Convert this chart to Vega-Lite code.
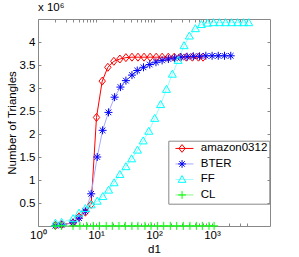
{
  "$schema": "https://vega.github.io/schema/vega-lite/v6.json",
  "width": 232,
  "height": 207,
  "autosize": "none",
  "padding": {"left": 38, "top": 19, "right": 29, "bottom": 31},
  "background": "white",
  "config": {
    "font": "Liberation Sans",
    "view": {"stroke": null},
    "axis": {"grid": false, "domainColor": "#888888", "tickColor": "#888888", "labelColor": "#000000", "titleColor": "#000000", "labelFontSize": 11.5, "titleFontSize": 11.5, "titleFontWeight": "normal", "labelFont": "Liberation Sans", "titleFont": "Liberation Sans"},
    "legend": {"labelFont": "Liberation Sans", "labelFontSize": 11.5, "labelColor": "#000000"}
  },
  "title": {"text": "x 10⁶", "anchor": "start", "frame": "group", "fontSize": 11.5, "fontWeight": "normal", "font": "Liberation Sans", "offset": 3, "color": "#000000"},
  "data": {"values": [
    {"series": "amazon0312", "d1": 2, "tri": 10000},
    {"series": "amazon0312", "d1": 2.55, "tri": 30000},
    {"series": "amazon0312", "d1": 4.03, "tri": 70000},
    {"series": "amazon0312", "d1": 5.1, "tri": 200000},
    {"series": "amazon0312", "d1": 6.56, "tri": 300000},
    {"series": "amazon0312", "d1": 8.26, "tri": 470000},
    {"series": "amazon0312", "d1": 10.2, "tri": 2360000},
    {"series": "amazon0312", "d1": 12.8, "tri": 3150000},
    {"series": "amazon0312", "d1": 16, "tri": 3450000},
    {"series": "amazon0312", "d1": 20.3, "tri": 3580000},
    {"series": "amazon0312", "d1": 25.8, "tri": 3630000},
    {"series": "amazon0312", "d1": 32.8, "tri": 3660000},
    {"series": "amazon0312", "d1": 41.7, "tri": 3670000},
    {"series": "amazon0312", "d1": 52.9, "tri": 3670000},
    {"series": "amazon0312", "d1": 67.3, "tri": 3670000},
    {"series": "amazon0312", "d1": 85.7, "tri": 3670000},
    {"series": "amazon0312", "d1": 109, "tri": 3670000},
    {"series": "amazon0312", "d1": 138, "tri": 3670000},
    {"series": "amazon0312", "d1": 176, "tri": 3670000},
    {"series": "amazon0312", "d1": 223, "tri": 3670000},
    {"series": "amazon0312", "d1": 284, "tri": 3670000},
    {"series": "amazon0312", "d1": 361, "tri": 3670000},
    {"series": "amazon0312", "d1": 458, "tri": 3670000},
    {"series": "amazon0312", "d1": 583, "tri": 3670000},
    {"series": "amazon0312", "d1": 700, "tri": 3670000},
    {"series": "BTER", "d1": 2, "tri": 5000},
    {"series": "BTER", "d1": 2.55, "tri": 20000},
    {"series": "BTER", "d1": 4.03, "tri": 70000},
    {"series": "BTER", "d1": 5.1, "tri": 170000},
    {"series": "BTER", "d1": 6.56, "tri": 320000},
    {"series": "BTER", "d1": 8.26, "tri": 700000},
    {"series": "BTER", "d1": 10.5, "tri": 1500000},
    {"series": "BTER", "d1": 13, "tri": 2080000},
    {"series": "BTER", "d1": 16.4, "tri": 2470000},
    {"series": "BTER", "d1": 20.9, "tri": 2800000},
    {"series": "BTER", "d1": 26.4, "tri": 3020000},
    {"series": "BTER", "d1": 32.8, "tri": 3160000},
    {"series": "BTER", "d1": 41.7, "tri": 3280000},
    {"series": "BTER", "d1": 51.4, "tri": 3380000},
    {"series": "BTER", "d1": 65.9, "tri": 3450000},
    {"series": "BTER", "d1": 84.5, "tri": 3510000},
    {"series": "BTER", "d1": 108, "tri": 3560000},
    {"series": "BTER", "d1": 138, "tri": 3600000},
    {"series": "BTER", "d1": 177, "tri": 3630000},
    {"series": "BTER", "d1": 227, "tri": 3650000},
    {"series": "BTER", "d1": 291, "tri": 3670000},
    {"series": "BTER", "d1": 372, "tri": 3680000},
    {"series": "BTER", "d1": 476, "tri": 3690000},
    {"series": "BTER", "d1": 611, "tri": 3690000},
    {"series": "BTER", "d1": 783, "tri": 3700000},
    {"series": "BTER", "d1": 1004, "tri": 3700000},
    {"series": "BTER", "d1": 1282, "tri": 3700000},
    {"series": "BTER", "d1": 1643, "tri": 3700000},
    {"series": "BTER", "d1": 2105, "tri": 3700000},
    {"series": "FF", "d1": 2, "tri": 60000},
    {"series": "FF", "d1": 2.55, "tri": 80000},
    {"series": "FF", "d1": 4.03, "tri": 160000},
    {"series": "FF", "d1": 5.1, "tri": 280000},
    {"series": "FF", "d1": 6.56, "tri": 380000},
    {"series": "FF", "d1": 8.26, "tri": 460000},
    {"series": "FF", "d1": 10.5, "tri": 540000},
    {"series": "FF", "d1": 13.1, "tri": 640000},
    {"series": "FF", "d1": 16.5, "tri": 780000},
    {"series": "FF", "d1": 20.5, "tri": 940000},
    {"series": "FF", "d1": 25.8, "tri": 1120000},
    {"series": "FF", "d1": 32.8, "tri": 1290000},
    {"series": "FF", "d1": 41.1, "tri": 1460000},
    {"series": "FF", "d1": 51.9, "tri": 1650000},
    {"series": "FF", "d1": 65, "tri": 1850000},
    {"series": "FF", "d1": 81.3, "tri": 2060000},
    {"series": "FF", "d1": 103, "tri": 2340000},
    {"series": "FF", "d1": 130, "tri": 2640000},
    {"series": "FF", "d1": 164, "tri": 2970000},
    {"series": "FF", "d1": 207, "tri": 3300000},
    {"series": "FF", "d1": 261, "tri": 3600000},
    {"series": "FF", "d1": 330, "tri": 3920000},
    {"series": "FF", "d1": 407, "tri": 4130000},
    {"series": "FF", "d1": 518, "tri": 4290000},
    {"series": "FF", "d1": 657, "tri": 4380000},
    {"series": "FF", "d1": 835, "tri": 4410000},
    {"series": "FF", "d1": 1064, "tri": 4420000},
    {"series": "FF", "d1": 1349, "tri": 4420000},
    {"series": "FF", "d1": 1715, "tri": 4420000},
    {"series": "FF", "d1": 2183, "tri": 4420000},
    {"series": "FF", "d1": 2768, "tri": 4420000},
    {"series": "FF", "d1": 3520, "tri": 4420000},
    {"series": "FF", "d1": 4295, "tri": 4420000},
    {"series": "CL", "d1": 2, "tri": 2000},
    {"series": "CL", "d1": 2.55, "tri": 2000},
    {"series": "CL", "d1": 4.02, "tri": 3000},
    {"series": "CL", "d1": 5.29, "tri": 3000},
    {"series": "CL", "d1": 6.9, "tri": 3000},
    {"series": "CL", "d1": 8.98, "tri": 3000},
    {"series": "CL", "d1": 11.5, "tri": 3000},
    {"series": "CL", "d1": 15, "tri": 3000},
    {"series": "CL", "d1": 19.1, "tri": 3000},
    {"series": "CL", "d1": 24.9, "tri": 3000},
    {"series": "CL", "d1": 32, "tri": 3000},
    {"series": "CL", "d1": 41.7, "tri": 3000},
    {"series": "CL", "d1": 52.9, "tri": 3000},
    {"series": "CL", "d1": 69.8, "tri": 3000},
    {"series": "CL", "d1": 88.8, "tri": 3000},
    {"series": "CL", "d1": 115.5, "tri": 3000},
    {"series": "CL", "d1": 147, "tri": 3000},
    {"series": "CL", "d1": 191, "tri": 3000},
    {"series": "CL", "d1": 246, "tri": 3000},
    {"series": "CL", "d1": 320, "tri": 3000},
    {"series": "CL", "d1": 417, "tri": 3000},
    {"series": "CL", "d1": 537, "tri": 3000},
    {"series": "CL", "d1": 681, "tri": 3000},
    {"series": "CL", "d1": 888, "tri": 3000},
    {"series": "CL", "d1": 1086, "tri": 3000}
  ]},
  "resolve": {"axis": {"x": "independent", "y": "independent"}},
  "layer": [
    {
      "mark": {"type": "line", "strokeWidth": 1, "clip": false},
      "encoding": {
        "x": {"field": "d1", "type": "quantitative", "scale": {"type": "log", "domain": [1, 4300]},
          "axis": {"orient": "bottom", "values": [1,2,3,4,5,6,7,8,9,10,20,30,40,50,60,70,80,90,100,200,300,400,500,600,700,800,900,1000,2000,3000,4000],
            "labelExpr": "datum.value===1?'10⁰':datum.value===10?'10¹':datum.value===100?'10²':datum.value===1000?'10³':''",
            "tickSize": -3, "labelPadding": 6, "labelFlush": false, "labelOverlap": false, "title": "d1", "titlePadding": 3}},
        "y": {"field": "tri", "type": "quantitative", "scale": {"domain": [0, 4400000]},
          "axis": {"orient": "left", "values": [500000,1000000,1500000,2000000,2500000,3000000,3500000,4000000],
            "labelExpr": "datum.value/1000000 + ''", "tickSize": -3, "labelPadding": 6, "labelFlush": false, "labelOverlap": false, "title": "Number of Triangles", "titlePadding": 2}},
        "color": {"field": "series", "type": "nominal",
          "scale": {"domain": ["amazon0312", "BTER", "FF", "CL"], "range": ["#ff0000", "#a8a8ff", "#9ffcfc", "#8cf58c"]},
          "legend": {"orient": "none", "legendX": 140.7, "legendY": 123.7, "title": null, "symbolType": "M-4.5,0L4.5,0", "symbolSize": 16, "symbolStrokeWidth": 1, "labelExpr": "''", "rowPadding": 2.5, "padding": 0}}
      }
    },
    {
      "mark": {"type": "point", "filled": false, "strokeWidth": 1, "size": 64, "opacity": 1, "clip": false},
      "encoding": {
        "x": {"field": "d1", "type": "quantitative",
          "axis": {"orient": "top", "values": [1,2,3,4,5,6,7,8,9,10,20,30,40,50,60,70,80,90,100,200,300,400,500,600,700,800,900,1000,2000,3000,4000], "labels": false, "tickSize": -3, "title": null}},
        "y": {"field": "tri", "type": "quantitative",
          "axis": {"orient": "right", "values": [500000,1000000,1500000,2000000,2500000,3000000,3500000,4000000], "labels": false, "tickSize": -3, "title": null}},
        "stroke": {"field": "series", "type": "nominal", "sort": null,
          "scale": {"range": ["#ff0000", "#0000ff", "#00ffff", "#00ff00"]},
          "legend": {"orient": "none", "legendX": 130.3, "legendY": 121.7, "title": null, "padding": 2, "strokeColor": "#888888", "symbolSize": 60, "symbolStrokeWidth": 1, "symbolOffset": 6, "labelOffset": 13, "rowPadding": 2.5}},
        "shape": {"field": "series", "type": "nominal", "sort": null,
          "scale": {"range": ["M0,-1L0.8,0L0,1L-0.8,0Z", "M-1,0L1,0M0,-1L0,1M-0.7,-0.7L0.7,0.7M-0.7,0.7L0.7,-0.7", "M0,-1L1,0.75L-1,0.75Z", "M-1,0L1,0M0,-1L0,1"]},
          "legend": {"orient": "none", "legendX": 130.3, "legendY": 121.7, "title": null, "padding": 2, "strokeColor": "#888888", "symbolSize": 60, "symbolStrokeWidth": 1, "symbolOffset": 6, "labelOffset": 13, "rowPadding": 2.5}}
      }
    }
  ]
}
